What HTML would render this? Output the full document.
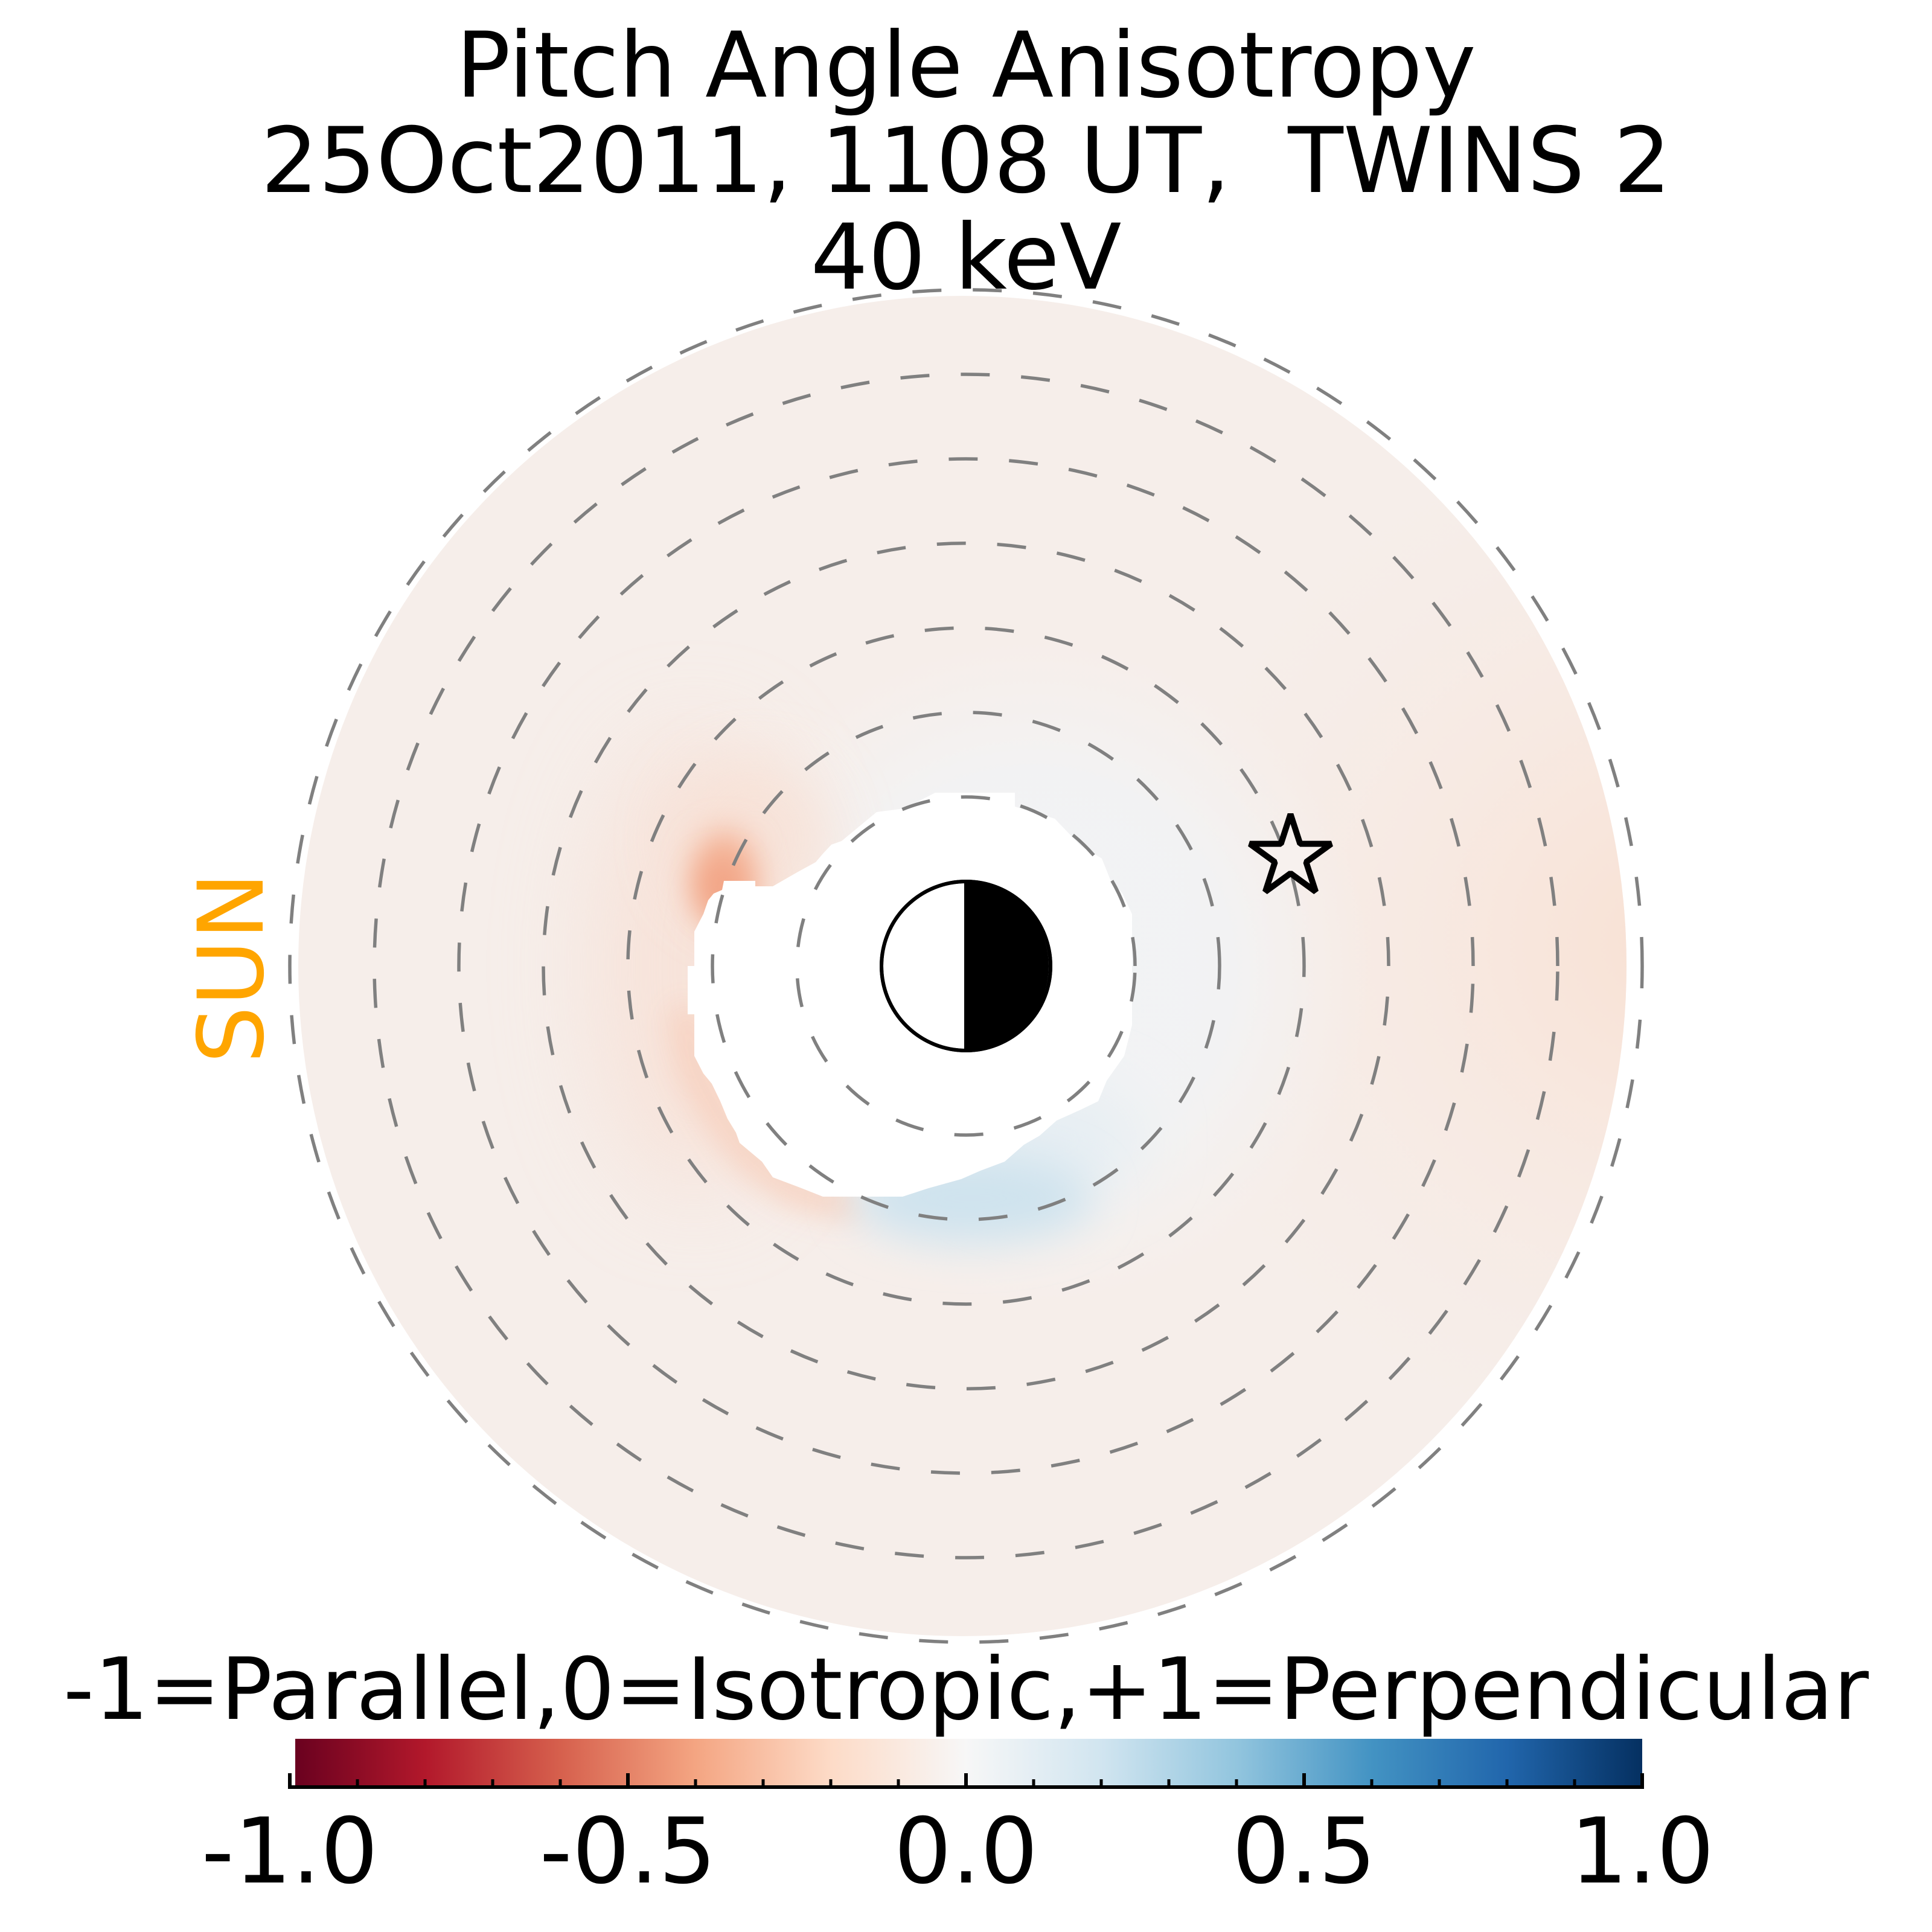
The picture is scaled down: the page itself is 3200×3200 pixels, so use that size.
<!DOCTYPE html>
<html>
<head>
<meta charset="utf-8">
<style>
html,body{margin:0;padding:0;background:#fff;}
svg{display:block;}
text{font-family:"DejaVu Sans","Liberation Sans",sans-serif;}
</style>
</head>
<body>
<svg xmlns="http://www.w3.org/2000/svg" width="3200" height="3200" viewBox="0 0 3200 3200">
<defs>
  <clipPath id="disc">
    <ellipse cx="1594" cy="1600" rx="1100" ry="1110"/>
  </clipPath>
  <filter id="b25" x="-100%" y="-100%" width="300%" height="300%"><feGaussianBlur stdDeviation="25"/></filter>
  <filter id="b35" x="-100%" y="-100%" width="300%" height="300%"><feGaussianBlur stdDeviation="35"/></filter>
  <filter id="b50" x="-100%" y="-100%" width="300%" height="300%"><feGaussianBlur stdDeviation="50"/></filter>
  <filter id="b80" x="-100%" y="-100%" width="300%" height="300%"><feGaussianBlur stdDeviation="80"/></filter>
  <radialGradient id="halo" gradientUnits="userSpaceOnUse" cx="1710" cy="1610" r="560">
    <stop offset="0" stop-color="#f0f3f6" stop-opacity="1"/>
    <stop offset="0.6" stop-color="#f2f3f4" stop-opacity="0.9"/>
    <stop offset="1" stop-color="#f4f2f1" stop-opacity="0"/>
  </radialGradient>
  <radialGradient id="rightor" gradientUnits="userSpaceOnUse" cx="2760" cy="1560" r="900">
    <stop offset="0" stop-color="#f9e0d2" stop-opacity="0.95"/>
    <stop offset="0.5" stop-color="#f8e6dc" stop-opacity="0.5"/>
    <stop offset="1" stop-color="#f7ebe5" stop-opacity="0"/>
  </radialGradient>
  <linearGradient id="rdbu" gradientUnits="userSpaceOnUse" x1="480" y1="0" x2="2720" y2="0">
    <stop offset="0" stop-color="#67001f"/>
    <stop offset="0.1" stop-color="#b2182b"/>
    <stop offset="0.2" stop-color="#d6604d"/>
    <stop offset="0.3" stop-color="#f4a582"/>
    <stop offset="0.4" stop-color="#fddbc7"/>
    <stop offset="0.5" stop-color="#f7f7f7"/>
    <stop offset="0.6" stop-color="#d1e5f0"/>
    <stop offset="0.7" stop-color="#92c5de"/>
    <stop offset="0.8" stop-color="#4393c3"/>
    <stop offset="0.9" stop-color="#2166ac"/>
    <stop offset="1" stop-color="#053061"/>
  </linearGradient>
</defs>

<rect x="0" y="0" width="3200" height="3200" fill="#ffffff"/>

<!-- colored field -->
<g clip-path="url(#disc)">
  <rect x="400" y="400" width="2400" height="2400" fill="#f6eeea"/>
  <rect x="400" y="400" width="2400" height="2400" fill="url(#rightor)"/>
  <circle cx="1710" cy="1610" r="560" fill="url(#halo)"/>
  <!-- salmon left side -->
  <ellipse cx="1150" cy="1600" rx="170" ry="380" fill="#f8dccf" opacity="0.6" filter="url(#b80)"/>
  <ellipse cx="1250" cy="1390" rx="130" ry="130" fill="#f8e0d4" opacity="0.7" filter="url(#b50)"/>
  <!-- red spot -->
  <ellipse cx="1200" cy="1460" rx="55" ry="85" fill="#f4b497" filter="url(#b25)"/>
  <ellipse cx="1195" cy="1468" rx="32" ry="45" fill="#f2a283" filter="url(#b25)"/>
  <!-- lower-left band -->
  <polyline points="1135,1690 1150,1770 1190,1845 1240,1915 1310,1968 1400,1995" fill="none" stroke="#f7cfbc" stroke-width="50" stroke-linecap="round" opacity="0.9" filter="url(#b25)"/>
  <!-- blue -->
  <ellipse cx="1740" cy="1890" rx="150" ry="90" fill="#e6eef3" filter="url(#b50)"/>
  <ellipse cx="1610" cy="1985" rx="200" ry="75" fill="#cfe3ee" filter="url(#b35)"/>
</g>

<!-- inner hole -->
<polygon fill="#ffffff" points="1549,1313 1681,1313 1681,1336 1747,1356 1788,1399 1825,1422 1839,1457 1859,1480 1875,1514 1875,1698 1862,1749 1833,1790 1819,1824 1790,1838 1750,1856 1722,1881 1696,1896 1664,1924 1624,1939 1592,1953 1538,1968 1495,1982 1363,1982 1325,1967 1280,1950 1262,1924 1225,1893 1219,1876 1205,1853 1193,1824 1179,1795 1165,1778 1150,1749 1150,1680 1139,1680 1139,1600 1150,1600 1150,1543 1165,1514 1173,1491 1182,1480 1196,1474 1199,1459 1251,1459 1251,1468 1280,1468 1320,1445 1351,1428 1363,1414 1377,1399 1394,1393 1452,1345 1498,1339"/>

<!-- dashed circles -->
<g fill="none" stroke="#808080" stroke-width="5.5" stroke-dasharray="48 52" stroke-linecap="butt">
  <path d="M1880 1600 A280 280 0 1 0 1320 1600 A280 280 0 1 0 1880 1600"/>
  <path d="M2020 1600 A420 420 0 1 0 1180 1600 A420 420 0 1 0 2020 1600"/>
  <path d="M2160 1600 A560 560 0 1 0 1040 1600 A560 560 0 1 0 2160 1600"/>
  <path d="M2300 1600 A700 700 0 1 0 900 1600 A700 700 0 1 0 2300 1600"/>
  <path d="M2440 1600 A840 840 0 1 0 760 1600 A840 840 0 1 0 2440 1600"/>
  <path d="M2580 1600 A980 980 0 1 0 620 1600 A980 980 0 1 0 2580 1600"/>
  <path d="M2720 1600 A1120 1120 0 1 0 480 1600 A1120 1120 0 1 0 2720 1600"/>
</g>

<!-- Earth -->
<circle cx="1600" cy="1600" r="140" fill="#ffffff" stroke="#000" stroke-width="6"/>
<path d="M1597 1460 A140 140 0 0 1 1597 1740 Z" fill="#000"/>
<circle cx="1600" cy="1600" r="140" fill="none" stroke="#000" stroke-width="6"/>

<!-- star -->
<polygon points="2137.5,1348.5 2153.4,1397.6 2205.0,1397.6 2163.3,1427.9 2179.2,1476.9 2137.5,1446.6 2095.8,1476.9 2111.7,1427.9 2070.0,1397.6 2121.6,1397.6" fill="#f7f1ee" stroke="#000" stroke-width="10" stroke-linejoin="bevel"/>

<!-- titles -->
<g font-size="150" fill="#000" text-anchor="middle">
  <text x="1600" y="160">Pitch Angle Anisotropy</text>
  <text x="1600" y="318" xml:space="preserve" style="white-space:pre">25Oct2011, 1108 UT,  TWINS 2</text>
  <text x="1600" y="478">40 keV</text>
</g>

<!-- SUN -->
<text transform="translate(435,1603) rotate(-90)" font-size="150" fill="#ffa500" text-anchor="middle">SUN</text>

<!-- colorbar -->
<text x="1600" y="2847" font-size="142" fill="#000" text-anchor="middle">-1=Parallel,0=Isotropic,+1=Perpendicular</text>
<rect x="489" y="2880" width="2231" height="78" fill="url(#rdbu)"/>
<line x1="477" y1="2960" x2="2723" y2="2960" stroke="#000" stroke-width="6"/>
<g stroke="#000" stroke-width="6">
  <line x1="480" y1="2937" x2="480" y2="2960"/>
  <line x1="1040" y1="2937" x2="1040" y2="2960"/>
  <line x1="1600" y1="2937" x2="1600" y2="2960"/>
  <line x1="2160" y1="2937" x2="2160" y2="2960"/>
  <line x1="2720" y1="2937" x2="2720" y2="2960"/>
</g>
<g stroke="#000" stroke-width="5">
  <line x1="592" y1="2947" x2="592" y2="2960"/>
  <line x1="704" y1="2947" x2="704" y2="2960"/>
  <line x1="816" y1="2947" x2="816" y2="2960"/>
  <line x1="928" y1="2947" x2="928" y2="2960"/>
  <line x1="1152" y1="2947" x2="1152" y2="2960"/>
  <line x1="1264" y1="2947" x2="1264" y2="2960"/>
  <line x1="1376" y1="2947" x2="1376" y2="2960"/>
  <line x1="1488" y1="2947" x2="1488" y2="2960"/>
  <line x1="1712" y1="2947" x2="1712" y2="2960"/>
  <line x1="1824" y1="2947" x2="1824" y2="2960"/>
  <line x1="1936" y1="2947" x2="1936" y2="2960"/>
  <line x1="2048" y1="2947" x2="2048" y2="2960"/>
  <line x1="2272" y1="2947" x2="2272" y2="2960"/>
  <line x1="2384" y1="2947" x2="2384" y2="2960"/>
  <line x1="2496" y1="2947" x2="2496" y2="2960"/>
  <line x1="2608" y1="2947" x2="2608" y2="2960"/>
</g>
<g font-size="150" fill="#000" text-anchor="middle">
  <text x="480" y="3118">-1.0</text>
  <text x="1040" y="3118">-0.5</text>
  <text x="1600" y="3118">0.0</text>
  <text x="2160" y="3118">0.5</text>
  <text x="2720" y="3118">1.0</text>
</g>
</svg>
</body>
</html>
